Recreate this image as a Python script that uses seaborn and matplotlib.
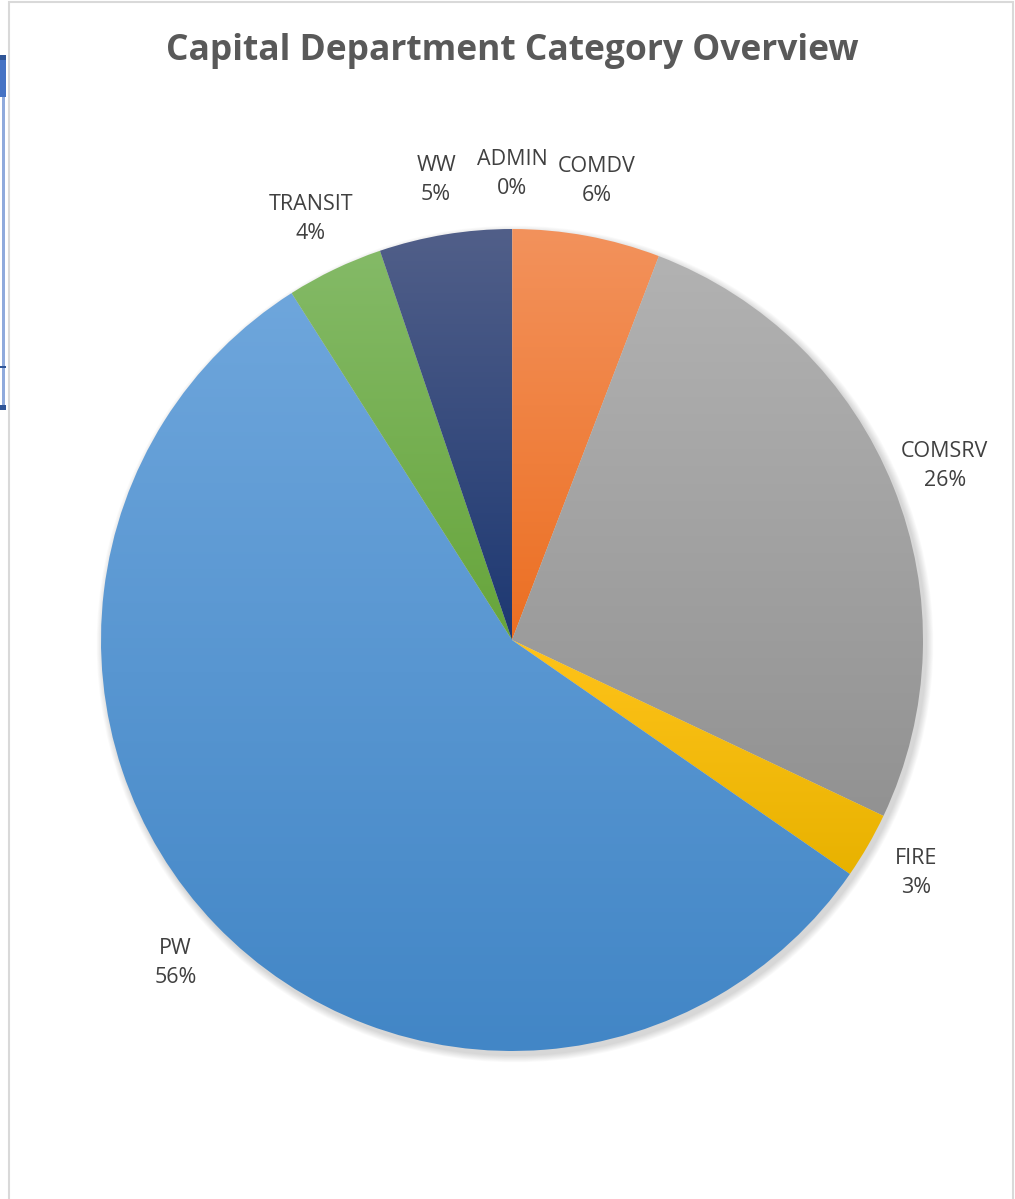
import numpy as np
import matplotlib
matplotlib.use("Agg")
import matplotlib.pyplot as plt
from matplotlib.colors import LinearSegmentedColormap
from matplotlib.patches import Rectangle, Circle
import seaborn as sns

# Department share of capital budget (percent), clockwise from 12 o'clock
departments = ["ADMIN", "COMDV", "COMSRV", "FIRE", "PW", "TRANSIT", "WW"]
shares = [0.01, 5.8, 26.2, 2.6, 56.3, 3.8, 5.2]

# Excel-style vertical gradient fills (light top -> dark bottom)
top_colors = ["#6A9FD6", "#F3925C", "#B2B2B2", "#FFC31A", "#6EA6DC", "#84BA67", "#515F89"]
bottom_colors = ["#4180C4", "#EC6F22", "#929292", "#E8B200", "#4286C6", "#67A53B", "#1D3872"]

sns.set_theme(style="white")
plt.rcParams['font.family'] = ['Open Sans', 'DejaVu Sans']

W, H = 1015, 1199
fig = plt.figure(figsize=(W / 100, H / 100), dpi=100)
ax = fig.add_axes([0, 0, 1, 1])

total = sum(shares)
labels = [f"{d}\n{v / total * 100:.0f}%" for d, v in zip(departments, shares)]

cx, cy, r = 512, H - 640, 411

# soft drop shadow behind the pie
for i in range(8):
    ax.add_patch(Circle((cx + 3, cy - 4), r + 1 + i * 0.9, color="black",
                        alpha=0.02, lw=0, zorder=0))

wedges, texts = ax.pie(shares, labels=labels, startangle=90, counterclock=False,
                       radius=r, center=(cx, cy), labeldistance=1.135,
                       textprops=dict(fontsize=15.5, color="#404040"))

grad = np.linspace(0, 1, 256).reshape(-1, 1)
for w, c0, c1 in zip(wedges, top_colors, bottom_colors):
    bb = w.get_path().get_extents()
    cmap = LinearSegmentedColormap.from_list("g", [c0, c1])
    im = ax.imshow(grad, cmap=cmap, extent=(bb.x0, bb.x1, bb.y0, bb.y1),
                   origin="upper", aspect="auto", zorder=1, interpolation="bilinear")
    im.set_clip_path(w)
    w.set_facecolor("none")
    w.set_edgecolor("none")

for t in texts:
    t.set_horizontalalignment("center")
    t.set_linespacing(1.5)

ax.set_xlim(0, W)
ax.set_ylim(0, H)
ax.set_aspect("auto")
ax.axis("off")

fig.text(512 / W, 1 - 51 / H, "Capital Department Category Overview",
         ha="center", va="center", fontsize=25.5, fontweight="bold", color="#595959")

# chart area border
fig.add_artist(Rectangle((9 / W, -0.01), (1013 - 9) / W, 1.01 - 2 / H,
                         transform=fig.transFigure, fill=False,
                         edgecolor="#D9D9D9", lw=1.5))

# bits of the neighbouring sheet visible at the left edge
fig.add_artist(Rectangle((0, 1 - 97 / H), 6 / W, 42 / H, transform=fig.transFigure,
                         facecolor="#4472C4", edgecolor="none"))
fig.add_artist(Rectangle((0, 1 - 60 / H), 6 / W, 5 / H, transform=fig.transFigure,
                         facecolor="#2F5597", edgecolor="none"))
fig.add_artist(Rectangle((2 / W, 1 - 405 / H), 3 / W, 308 / H, transform=fig.transFigure,
                         facecolor="#8FAADC", edgecolor="none"))
fig.add_artist(Rectangle((0, 1 - 368 / H), 6 / W, 2 / H, transform=fig.transFigure,
                         facecolor="#2F5597", edgecolor="none"))
fig.add_artist(Rectangle((0, 1 - 410 / H), 6 / W, 5 / H, transform=fig.transFigure,
                         facecolor="#2F5597", edgecolor="none"))

fig.savefig("out.png", dpi=100)
